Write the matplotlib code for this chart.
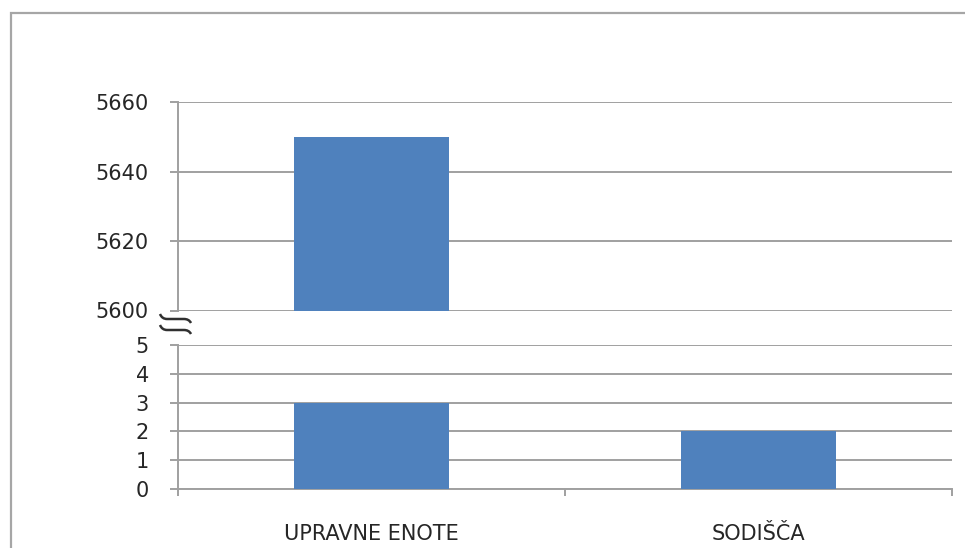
import matplotlib.pyplot as plt
from matplotlib.patches import Rectangle, PathPatch
from matplotlib.path import Path

# Category names and counts (upper panel = large values, lower panel = small values)
categories = ['UPRAVNE ENOTE', 'SODIŠČA']
upper_values = [5650, 2]
lower_values = [3, 2]
upper_ticks = [5600, 5620, 5640, 5660]
lower_ticks = [0, 1, 2, 3, 4, 5]

W, H = 965, 548
bar_color = '#4f81bd'
grid_color = '#a0a0a0'
text_color = '#262626'

plt.rcParams['font.family'] = ['DejaVu Sans']
plt.rcParams['font.size'] = 15

fig = plt.figure(figsize=(W / 100, H / 100), dpi=100)


def fx(x):
    return x / W


def fy(y):
    return 1 - y / H


# outer chart frame (runs off the right and bottom edges)
fig.patches.append(Rectangle((fx(11), -0.2), 1.2, fy(13) + 0.2, transform=fig.transFigure,
                             fill=False, edgecolor='#a6a6a6', linewidth=1.6))

left, right = fx(178), fx(952)
ax_top = fig.add_axes([left, fy(310.5), right - left, fy(102) - fy(310.5)])
ax_bot = fig.add_axes([left, fy(489), right - left, fy(345) - fy(489)])

xpos = range(len(categories))
for ax, vals, ticks, base in [(ax_top, upper_values, upper_ticks, upper_ticks[0]),
                              (ax_bot, lower_values, lower_ticks, 0)]:
    ax.bar(xpos, [v - base for v in vals], bottom=base, width=0.4, color=bar_color, zorder=3)
    ax.set_xlim(-0.5, len(categories) - 0.5)
    ax.set_ylim(ticks[0], ticks[-1])
    ax.set_yticks(ticks)
    ax.yaxis.grid(True, color=grid_color, linewidth=1.4, zorder=0)
    ax.set_axisbelow(True)
    for s in ['top', 'right']:
        ax.spines[s].set_visible(False)
    ax.spines['left'].set_color(grid_color)
    ax.spines['left'].set_linewidth(1.4)
    ax.tick_params(axis='y', length=6, width=1.4, color=grid_color, pad=15,
                   labelcolor=text_color, labelsize=15)

ax_top.spines['bottom'].set_visible(False)
ax_top.set_xticks([])

ax_bot.spines['bottom'].set_color(grid_color)
ax_bot.spines['bottom'].set_linewidth(1.4)
ax_bot.set_xticks(list(xpos))
ax_bot.set_xticklabels(categories)
ax_bot.set_xticks([-0.5, 0.5, 1.5], minor=True)
ax_bot.tick_params(axis='x', which='major', length=0, pad=25, labelcolor=text_color, labelsize=15)
ax_bot.tick_params(axis='x', which='minor', length=5, width=1.4, color=grid_color)

# axis break mark between the panels: two hooked strokes
codes = [Path.MOVETO, Path.CURVE3, Path.CURVE3, Path.LINETO, Path.CURVE3, Path.CURVE3]
for y0 in [314, 325]:
    pts = [(160, y0), (162, y0 + 5), (167, y0 + 5), (184, y0 + 5), (189, y0 + 5), (191, y0 + 9)]
    path = Path([(fx(x), fy(y)) for x, y in pts], codes)
    fig.patches.append(PathPatch(path, transform=fig.transFigure, fill=False,
                                 edgecolor='#303030', linewidth=1.8))

fig.savefig('out.png', dpi=100)
